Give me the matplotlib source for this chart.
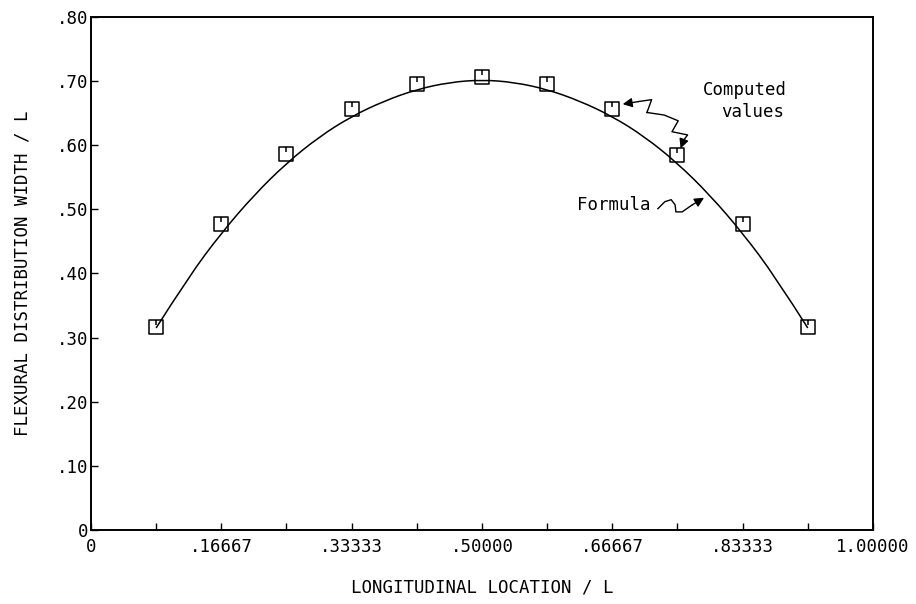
import numpy as np
import matplotlib
matplotlib.use("Agg")
import matplotlib.pyplot as plt
from matplotlib.path import Path
from matplotlib.patches import PathPatch

# computed values at x = k/12, k = 1..11
x_computed = [1/12, 2/12, 3/12, 4/12, 5/12, 6/12, 7/12, 8/12, 9/12, 10/12, 11/12]
y_computed = [0.317, 0.477, 0.586, 0.656, 0.695, 0.707, 0.695, 0.656, 0.585, 0.477, 0.317]

# formula curve at x = k/24, k = 2..22
x_formula = [k / 24 for k in range(2, 23)]
y_formula = [0.315, 0.395, 0.463, 0.522, 0.572, 0.613, 0.645, 0.669, 0.687, 0.698, 0.702,
             0.698, 0.687, 0.669, 0.645, 0.613, 0.572, 0.522, 0.463, 0.395, 0.315]

x_ticks = [0, 1/6, 2/6, 3/6, 4/6, 5/6, 1.0]
x_ticklabels = ["0", ".16667", ".33333", ".50000", ".66667", ".83333", "1.00000"]
y_ticks = [0, 0.1, 0.2, 0.3, 0.4, 0.5, 0.6, 0.7, 0.8]
y_ticklabels = ["0", ".10", ".20", ".30", ".40", ".50", ".60", ".70", ".80"]

FONT = "DejaVu Sans Mono"
FS = 12.5


def box_marker():
    verts = [(-1, -1), (1, -1), (1, 1), (-1, 1), (-1, -1), (0, 1), (0, 0.3)]
    codes = [Path.MOVETO, Path.LINETO, Path.LINETO, Path.LINETO, Path.CLOSEPOLY,
             Path.MOVETO, Path.LINETO]
    return Path(verts, codes)


def smooth_path(xs, ys):
    # quadratic b-spline through midpoints, the sampled points act as control points
    pts = np.column_stack([xs, ys])
    verts = [pts[0]]
    codes = [Path.MOVETO]
    for i in range(1, len(pts) - 1):
        mid = (pts[i] + pts[i + 1]) / 2 if i < len(pts) - 2 else pts[-1]
        verts += [pts[i], mid]
        codes += [Path.CURVE3, Path.CURVE3]
    return Path(verts, codes)


def squiggle(ax, pts, tip):
    xs, ys = zip(*pts)
    ax.plot(xs, ys, color="k", lw=1.0)
    ax.annotate("", xy=tip, xytext=pts[-1],
                arrowprops=dict(arrowstyle="-|>", color="k", lw=1.0,
                                mutation_scale=14, shrinkA=0, shrinkB=0))


def main():
    plt.rcParams["font.family"] = [FONT, "DejaVu Sans"]
    fig = plt.figure(figsize=(9.16, 6.04), dpi=100)
    ax = fig.add_axes([0.0993, 0.1225, 0.8537, 0.8495])

    ax.add_patch(PathPatch(smooth_path(x_formula, y_formula), facecolor="none",
                           edgecolor="k", lw=1.1))
    ax.plot(x_computed, y_computed, linestyle="none", marker=box_marker(),
            markersize=9.5, markerfacecolor="none", markeredgecolor="k", markeredgewidth=1.1)

    ax.set_xlim(0, 1)
    ax.set_ylim(0, 0.8)
    ax.set_xticks(x_ticks)
    ax.set_xticklabels(x_ticklabels)
    ax.set_xticks([k / 12 for k in range(1, 12, 2)], minor=True)
    ax.set_yticks(y_ticks)
    ax.set_yticklabels(y_ticklabels)
    ax.tick_params(axis="both", which="both", direction="in", length=5, width=1,
                   labelsize=FS, top=False, right=False)
    ax.tick_params(axis="x", pad=6)
    ax.tick_params(axis="y", pad=2)
    for s in ax.spines.values():
        s.set_linewidth(1.4)

    ax.set_xlabel("LONGITUDINAL LOCATION / L", fontsize=FS, labelpad=16)
    ax.set_ylabel("FLEXURAL DISTRIBUTION WIDTH / L", fontsize=FS, labelpad=18)

    # annotations
    ax.text(0.621, 0.507, "Formula", fontsize=FS, va="center", ha="left")
    squiggle(ax, [(0.725, 0.501), (0.734, 0.512), (0.742, 0.515), (0.747, 0.507),
                  (0.748, 0.496), (0.756, 0.496), (0.769, 0.507)], (0.784, 0.518))

    ax.text(0.783, 0.686, "Computed", fontsize=FS, va="center", ha="left")
    ax.text(0.806, 0.652, "values", fontsize=FS, va="center", ha="left")
    squiggle(ax, [(0.711, 0.651), (0.717, 0.671), (0.700, 0.668)], (0.680, 0.664))
    squiggle(ax, [(0.711, 0.651), (0.733, 0.647), (0.751, 0.638), (0.743, 0.621),
                  (0.763, 0.616), (0.758, 0.608)], (0.754, 0.595))

    fig.savefig("out.png", dpi=100)
    plt.close(fig)


if __name__ == "__main__":
    main()
